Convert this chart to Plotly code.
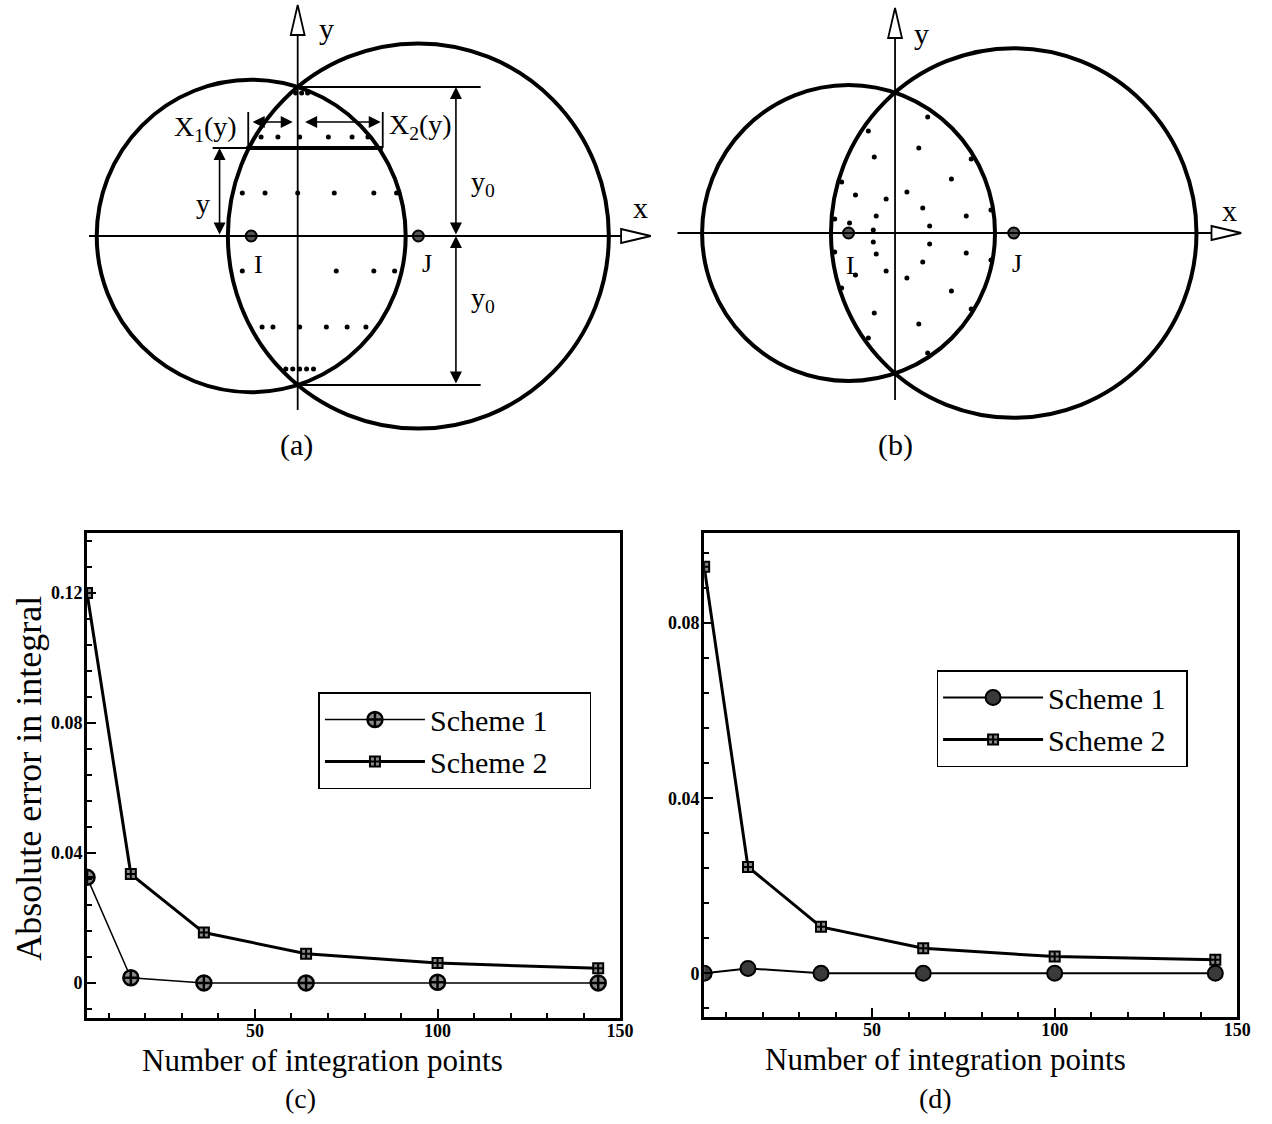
import plotly.graph_objects as go

SERIF = "Liberation Serif, Times New Roman, serif"
W, H = 1272, 1124

# ---------------- convergence study (panels c and d) ----------------
n_points = [4, 16, 36, 64, 100, 144]
err_c_scheme1 = [0.0325, 0.0016, 0.0, 0.0, 0.0002, 0.0]
err_c_scheme2 = [0.120, 0.0335, 0.0155, 0.0090, 0.0061, 0.0045]
err_d_scheme1 = [0.0, 0.0011, 0.0, 0.0, 0.0, 0.0]
err_d_scheme2 = [0.0929, 0.0243, 0.0106, 0.0057, 0.0038, 0.0031]

x_range = [4, 150]
c_y_range = [-0.0108, 0.1385]
d_y_range = [-0.0100, 0.1006]

# ---------------- intersection of two support domains ----------------
# panel (a): nodes I, J on the x axis, support radii, half chord y0
a_node_u = [-0.47, 1.22]
a_radius = [1.562, 1.926]
a_y0 = 1.49
# regular rows of integration points inside the lens
a_pts_u = [-0.37, -0.20, 0.02, 0.31, 0.55, 0.71,
           -0.56, -0.33, 0.00, 0.37, 0.77, 1.00,
           -0.56, 0.39, 0.77, 0.98,
           -0.36, -0.25, 0.02, 0.29, 0.50, 0.69,
           -0.02, 0.04, 0.10,
           -0.12, -0.05, 0.02, 0.09, 0.16]
a_pts_v = [0.99] * 6 + [0.43] * 6 + [-0.35] * 4 + [-0.91] * 6 + [1.43] * 3 + [-1.33] * 5

# panel (b): same construction, scattered integration points
b_node_u = [-0.47, 1.20]
b_radius = [1.481, 1.848]
b_pts_u = [0.33, -0.27, 0.24, -0.21, 0.77, 0.57, -0.54, 0.12, -0.40, -0.09,
           0.28, 0.97, -0.61, -0.19, 0.72, -0.46, 0.35, -0.22, -0.22, 0.35,
           -0.61, -0.19, 0.72, 0.97, 0.28, -0.40, -0.09, 0.12, -0.54, 0.57,
           0.77, -0.21, 0.24, -0.27, 0.33]
b_pts_v = [1.16, 1.02, 0.85, 0.76, 0.74, 0.54, 0.51, 0.41, 0.38, 0.34,
           0.25, 0.23, 0.14, 0.17, 0.17, 0.10, 0.07, 0.03, -0.09, -0.11,
           -0.19, -0.21, -0.20, -0.27, -0.29, -0.42, -0.38, -0.45, -0.55, -0.58,
           -0.76, -0.80, -0.91, -1.05, -1.20]

# right-hand padding inside the legend boxes
PAD_C = "&nbsp;" * 5
PAD_D = "&nbsp;" * 2

fig = go.Figure()

# ---- line charts ----
fig.add_trace(go.Scatter(
    x=n_points, y=err_c_scheme1, name="Scheme 1" + PAD_C, mode="lines+markers",
    line=dict(color="black", width=1.5),
    marker=dict(symbol="circle-cross", size=15, color="#8a8a8a",
                line=dict(color="black", width=2.5)),
    xaxis="x", yaxis="y", legend="legend"))
fig.add_trace(go.Scatter(
    x=n_points, y=err_c_scheme2, name="Scheme 2" + PAD_C, mode="lines+markers",
    line=dict(color="black", width=3),
    marker=dict(symbol="square-cross", size=10, color="#8a8a8a",
                line=dict(color="black", width=2)),
    xaxis="x", yaxis="y", legend="legend"))
fig.add_trace(go.Scatter(
    x=n_points, y=err_d_scheme1, name="Scheme 1" + PAD_D, mode="lines+markers",
    line=dict(color="black", width=2),
    marker=dict(symbol="circle", size=15, color="#3a3a3a",
                line=dict(color="black", width=2)),
    xaxis="x2", yaxis="y2", legend="legend2"))
fig.add_trace(go.Scatter(
    x=n_points, y=err_d_scheme2, name="Scheme 2" + PAD_D, mode="lines+markers",
    line=dict(color="black", width=3),
    marker=dict(symbol="square-cross", size=10, color="#8a8a8a",
                line=dict(color="black", width=2)),
    xaxis="x2", yaxis="y2", legend="legend2"))

# ---- diagram dots and nodes ----
for xa, ya, pu, pv, nodes in (("x3", "y3", a_pts_u, a_pts_v, a_node_u),
                              ("x4", "y4", b_pts_u, b_pts_v, b_node_u)):
    fig.add_trace(go.Scatter(x=pu, y=pv, mode="markers", showlegend=False,
                             marker=dict(size=5, color="black"),
                             xaxis=xa, yaxis=ya, hoverinfo="skip"))
    fig.add_trace(go.Scatter(x=nodes, y=[0, 0], mode="markers", showlegend=False,
                             marker=dict(size=11, color="#555555",
                                         line=dict(color="black", width=2)),
                             xaxis=xa, yaxis=ya, hoverinfo="skip"))

shapes = []
annotations = []


def line(xref, x0, y0, x1, y1, width=1.8):
    shapes.append(dict(type="line", xref=xref, yref=xref.replace("x", "y"),
                       x0=x0, y0=y0, x1=x1, y1=y1,
                       line=dict(color="black", width=width)))


def tri(xref, path):
    shapes.append(dict(type="path", xref=xref, yref=xref.replace("x", "y"),
                       path=path, fillcolor="white",
                       line=dict(color="black", width=1.8)))


def arrow(xref, x0, y0, x1, y1):
    annotations.append(dict(xref=xref, yref=xref.replace("x", "y"),
                            axref=xref, ayref=xref.replace("x", "y"),
                            x=x1, y=y1, ax=x0, ay=y0, text="", showarrow=True,
                            arrowhead=2, arrowside="end+start", arrowsize=1.5,
                            arrowwidth=1.6, arrowcolor="black",
                            standoff=0, startstandoff=0))


def label(xref, x, y, text, size=28):
    annotations.append(dict(xref=xref, yref=xref.replace("x", "y"), x=x, y=y,
                            text=text, showarrow=False,
                            xanchor="center", yanchor="middle",
                            font=dict(family=SERIF, size=size, color="black")))


# ---- diagram (a) ----
for u, r in zip(a_node_u, a_radius):
    shapes.append(dict(type="circle", xref="x3", yref="y3",
                       x0=u - r, x1=u + r, y0=-r, y1=r,
                       line=dict(color="black", width=4)))
line("x3", 0, -1.74, 0, 2.02)
line("x3", -2.11, 0, 3.28, 0)
tri("x3", "M 0,2.31 L -0.07,2.01 L 0.07,2.01 Z")
tri("x3", "M 3.57,0 L 3.27,0.07 L 3.27,-0.07 Z")
line("x3", 0, a_y0, 1.85, a_y0)
line("x3", 0, -a_y0, 1.85, -a_y0)
line("x3", -0.86, 0.88, 0.86, 0.88, 2)
line("x3", -0.52, 0.88, 0.86, 0.88, 4)
line("x3", -0.50, 0.88, -0.50, 1.24)
line("x3", 0.86, 0.88, 0.86, 1.24)
arrow("x3", 1.60, 0, 1.60, a_y0)
arrow("x3", 1.60, -a_y0, 1.60, 0)
arrow("x3", -0.79, 0, -0.79, 0.88)
arrow("x3", -0.47, 1.14, -0.05, 1.14)
arrow("x3", 0.06, 1.14, 0.84, 1.14)
label("x3", 0.29, 2.08, "y", 30)
label("x3", 3.47, 0.29, "x", 30)
label("x3", -0.93, 1.08, "X<sub>1</sub>(y)")
label("x3", 1.24, 1.10, "X<sub>2</sub>(y)")
label("x3", -0.96, 0.33, "y")
label("x3", 1.87, 0.53, "y<sub>0</sub>")
label("x3", 1.87, -0.63, "y<sub>0</sub>")
label("x3", -0.40, -0.28, "I", 26)
label("x3", 1.31, -0.27, "J", 26)

# ---- diagram (b) ----
for u, r in zip(b_node_u, b_radius):
    shapes.append(dict(type="circle", xref="x4", yref="y4",
                       x0=u - r, x1=u + r, y0=-r, y1=r,
                       line=dict(color="black", width=4)))
line("x4", 0, -1.67, 0, 1.96)
line("x4", -2.20, 0, 3.21, 0)
tri("x4", "M 0,2.25 L -0.07,1.95 L 0.07,1.95 Z")
tri("x4", "M 3.50,0 L 3.20,0.07 L 3.20,-0.07 Z")
label("x4", 0.27, 2.00, "y", 30)
label("x4", 3.38, 0.23, "x", 30)
label("x4", -0.45, -0.32, "I", 26)
label("x4", 1.23, -0.30, "J", 26)


# ---- paper-level texts ----
def ptext(px, py, text, size, angle=0):
    annotations.append(dict(xref="paper", yref="paper", x=px / W, y=1 - py / H,
                            xanchor="center", yanchor="middle",
                            text=text, showarrow=False, textangle=angle,
                            font=dict(family=SERIF, size=size, color="black")))


ptext(300, 445, "(a)", 30)
ptext(905, 445, "(b)", 30)
ptext(304, 1098, "(c)", 28)
ptext(946, 1098, "(d)", 28)
ptext(326, 1060, "Number of integration points", 31)
ptext(956, 1059, "Number of integration points", 31)
ptext(29, 778, "Absolute error in integral", 36, -90)

fig.update_layout(shapes=shapes, annotations=annotations)

tickfont = dict(family=SERIF, size=18, color="black", weight="bold")


def frame_axis(**kw):
    base = dict(showline=True, linewidth=3, linecolor="black", mirror=True,
                ticks="inside", ticklen=9, tickwidth=2, tickcolor="black",
                showgrid=False, zeroline=False, tickfont=tickfont,
                fixedrange=True)
    base.update(kw)
    return base


y_top, y_bot = 533, 1018
legend_style = dict(xanchor="left", yanchor="top",
                    bordercolor="black", borderwidth=1.5, bgcolor="white",
                    font=dict(family=SERIF, size=30, color="black"),
                    itemwidth=100, traceorder="normal")
x_minor = dict(ticks="inside", dtick=10, ticklen=5, tickwidth=1.5,
               tickcolor="black")
y_minor = dict(ticks="inside", dtick=0.008, ticklen=5, tickwidth=1.5,
               tickcolor="black")
fig.update_layout(
    width=W, height=H, autosize=False,
    margin=dict(l=0, r=0, t=0, b=0),
    paper_bgcolor="white", plot_bgcolor="white",
    xaxis=frame_axis(domain=[88 / W, 627 / W], range=x_range, anchor="y",
                     tick0=0, dtick=50, ticklabelstandoff=-6, minor=x_minor),
    yaxis=frame_axis(domain=[1 - y_bot / H, 1 - y_top / H], range=c_y_range,
                     anchor="x", tick0=0, dtick=0.04, ticklabelstandoff=-2,
                     minor=y_minor),
    xaxis2=frame_axis(domain=[712 / W, 1251 / W], range=x_range, anchor="y2",
                      tick0=0, dtick=50, ticklabelstandoff=-6, minor=x_minor),
    yaxis2=frame_axis(domain=[1 - 1017 / H, 1 - 533 / H], range=d_y_range,
                      anchor="x2", tick0=0, dtick=0.04, ticklabelstandoff=-2,
                      minor=y_minor),
    xaxis3=dict(domain=[80 / W, 680 / W], range=[-2.21, 3.79], visible=False,
                anchor="y3", fixedrange=True),
    yaxis3=dict(domain=[1 - 460 / H, 1], range=[-2.24, 2.36], visible=False,
                anchor="x3", fixedrange=True),
    xaxis4=dict(domain=[680 / W, 1], range=[-2.25, 3.67], visible=False,
                anchor="y4", fixedrange=True),
    yaxis4=dict(domain=[1 - 460 / H, 1], range=[-2.27, 2.33], visible=False,
                anchor="x4", fixedrange=True),
    legend=dict(x=322 / W, y=1 - 692 / H, **legend_style),
    legend2=dict(x=947 / W, y=1 - 670 / H, **legend_style),
    showlegend=True,
)

fig.write_html("out.html")
